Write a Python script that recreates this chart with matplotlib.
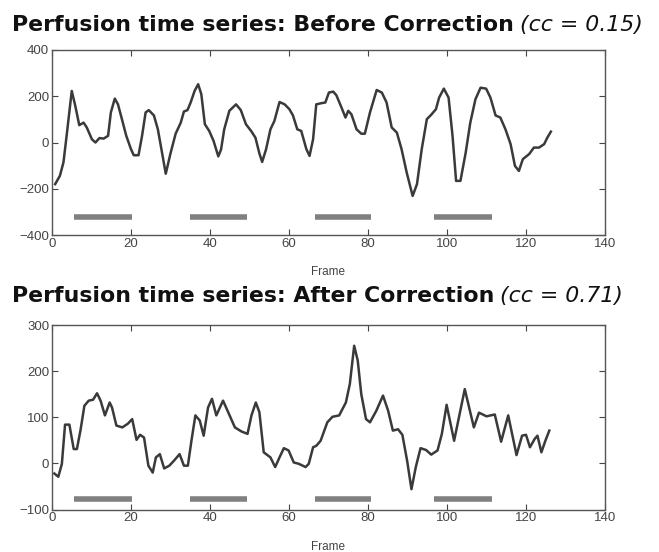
import matplotlib
matplotlib.use("Agg")
import matplotlib.pyplot as plt

plt.rcParams['font.family'] = ['Liberation Sans', 'DejaVu Sans']

# ---- data ----
before_frames = [0.8, 2.0, 2.9, 3.7, 5.0, 5.9, 6.9, 8.0, 8.8, 10.1, 11.0, 12.0, 13.1, 14.2, 14.9, 15.9, 16.7,
                 17.7, 18.8, 20.0, 20.7, 21.9, 22.8, 23.7, 24.5, 25.8, 26.8, 27.7, 28.8, 30.0, 31.3, 32.6,
                 33.4, 34.3, 35.1, 36.1, 37.0, 37.8, 38.7, 39.8, 40.9, 42.1, 42.8, 43.6, 44.9, 46.6, 47.8,
                 49.1, 50.4, 51.5, 52.5, 53.2, 54.2, 55.3, 56.3, 57.6, 58.9, 60.1, 61.0, 62.1, 63.1, 64.4,
                 65.2, 66.1, 66.9, 68.2, 69.2, 70.1, 71.2, 72.0, 73.3, 74.3, 75.0, 75.8, 77.1, 78.3, 79.2,
                 80.5, 82.2, 83.5, 84.7, 86.0, 87.3, 88.5, 89.8, 91.3, 92.4, 93.6, 94.9, 96.0, 97.2, 98.0,
                 99.2, 100.4, 101.4, 102.3, 103.4, 104.7, 105.9, 107.2, 108.5, 109.9, 111.0, 112.3, 113.5,
                 114.8, 116.1, 117.2, 118.2, 119.2, 120.8, 122.0, 123.3, 124.6, 125.4, 126.3]
before_values = [-180, -144, -86, 29, 223, 158, 75, 86, 65, 14, 0, 19, 17, 29, 130, 190, 165,
                 101, 29, -29, -55, -55, 29, 130, 140, 117, 57, -29, -135, -47, 38, 86,
                 134, 140, 173, 223, 252, 209, 79, 50, 7, -60, -30, 57, 137, 165, 140,
                 79, 50, 21, -47, -84, -29, 57, 93, 175, 165, 144, 117, 57, 50, -29,
                 -58, 14, 165, 170, 173, 216, 220, 204, 151, 108, 137, 122, 57, 38, 38,
                 130, 227, 216, 173, 65, 43, -29, -130, -231, -180, -29, 101, 120, 144, 194,
                 233, 194, 29, -166, -166, -47, 86, 187, 237, 233, 194, 117, 108,
                 57, -7, -101, -123, -72, -50, -22, -22, -7, 21, 47]

after_frames = [0.6, 1.6, 2.5, 3.3, 4.4, 5.5, 6.3, 7.2, 8.2, 9.3, 10.4, 11.4, 12.3, 13.4, 14.6, 15.2, 16.3,
                17.8, 19.2, 20.3, 21.4, 22.3, 23.3, 24.4, 25.5, 26.3, 27.3, 28.4, 29.7, 31.0, 32.3, 33.4,
                34.4, 35.3, 36.3, 37.4, 38.4, 39.5, 40.5, 41.6, 43.3, 44.6, 46.3, 48.0, 49.5, 50.5, 51.6,
                52.5, 53.6, 55.3, 56.5, 57.6, 58.7, 59.9, 61.2, 62.5, 64.2, 65.0, 66.1, 66.9, 68.0, 69.7,
                71.0, 72.7, 74.4, 75.4, 76.5, 77.4, 78.3, 79.5, 80.5, 82.1, 83.8, 85.1, 86.3, 87.6, 88.7,
                89.9, 91.0, 92.1, 93.3, 94.7, 96.0, 97.6, 98.7, 99.9, 101.8, 104.5, 106.8, 108.1, 110.0,
                112.1, 113.7, 115.5, 117.6, 119.0, 120.0, 121.0, 122.2, 122.9, 123.9, 124.9, 125.9]
after_values = [-22, -29, -1, 84, 84, 31, 31, 71, 125, 136, 138, 152, 136, 104, 132, 121, 82,
                78, 86, 96, 51, 62, 56, -5, -20, 13, 20, -11, -5, 7, 20, -5,
                -5, 49, 104, 93, 60, 121, 140, 104, 136, 111, 78, 69, 64, 104, 132,
                111, 24, 13, -8, 13, 33, 28, 2, -1, -8, -1, 35, 38, 49, 89,
                101, 104, 132, 172, 255, 223, 150, 96, 89, 114, 147, 114, 71, 74, 62,
                6, -56, -8, 33, 29, 19, 28, 64, 127, 49, 161, 78, 110, 102,
                106, 47, 104, 18, 60, 62, 35, 53, 60, 24, 49, 71]

block_starts = [5.5, 35.0, 66.5, 96.8]
block_ends = [20.3, 49.3, 80.8, 111.5]
before_block_level = -320
after_block_level = -78

titles = ["Perfusion time series: Before Correction", "Perfusion time series: After Correction"]
cc_labels = ["(cc = 0.15)", "(cc = 0.71)"]
xticks = [0, 20, 40, 60, 80, 100, 120, 140]
before_yticks = [-400, -200, 0, 200, 400]
after_yticks = [-100, 0, 100, 200, 300]

# ---- figure ----
W, H = 659, 552
fig = plt.figure(figsize=(W / 100, H / 100), dpi=100)
fig.patch.set_facecolor('white')

ax_top = fig.add_axes([52 / W, 1 - 235 / H, (605 - 52) / W, (235 - 50) / H])
ax_bot = fig.add_axes([52 / W, 1 - 509.5 / H, (605 - 52) / W, (509.5 - 325) / H])

line_color = '#3a3a3a'
bar_color = '#808080'
spine_color = '#555555'
tick_color = '#444444'

configs = [
    (ax_top, before_frames, before_values, before_block_level, (-400, 400), before_yticks, 31),
    (ax_bot, after_frames, after_values, after_block_level, (-100, 300), after_yticks, 302),
]

for i, (ax, xs, ys, lvl, ylim, yt, title_y) in enumerate(configs):
    ax.plot(xs, ys, color=line_color, lw=1.8, solid_joinstyle='round')
    for s, e in zip(block_starts, block_ends):
        ax.plot([s, e], [lvl, lvl], color=bar_color, lw=4, solid_capstyle='butt')
    ax.set_xlim(0, 140)
    ax.set_ylim(*ylim)
    ax.set_xticks(xticks)
    ax.set_yticks(yt)
    ax.tick_params(direction='in', length=4, width=0.8, top=True, right=True,
                   labelsize=9.5, colors=tick_color, pad=2)
    for sp in ax.spines.values():
        sp.set_color(spine_color)
        sp.set_linewidth(1.0)
    ax.set_xlabel('Frame', fontsize=8.5, color='#444444', labelpad=12)

    t1 = fig.text(12 / W, 1 - title_y / H, titles[i], fontsize=15.8, fontweight='bold',
                  family=['DejaVu Sans'], color='#111111', ha='left', va='baseline')
    fig.canvas.draw()
    r = fig.canvas.get_renderer()
    bb = t1.get_window_extent(r)
    fig.text((bb.x1 + 6) / W, 1 - title_y / H, cc_labels[i], fontsize=15.8, style='italic',
             family=['DejaVu Sans'], color='#111111', ha='left', va='baseline')

fig.savefig('out.png', dpi=100, facecolor='white')
